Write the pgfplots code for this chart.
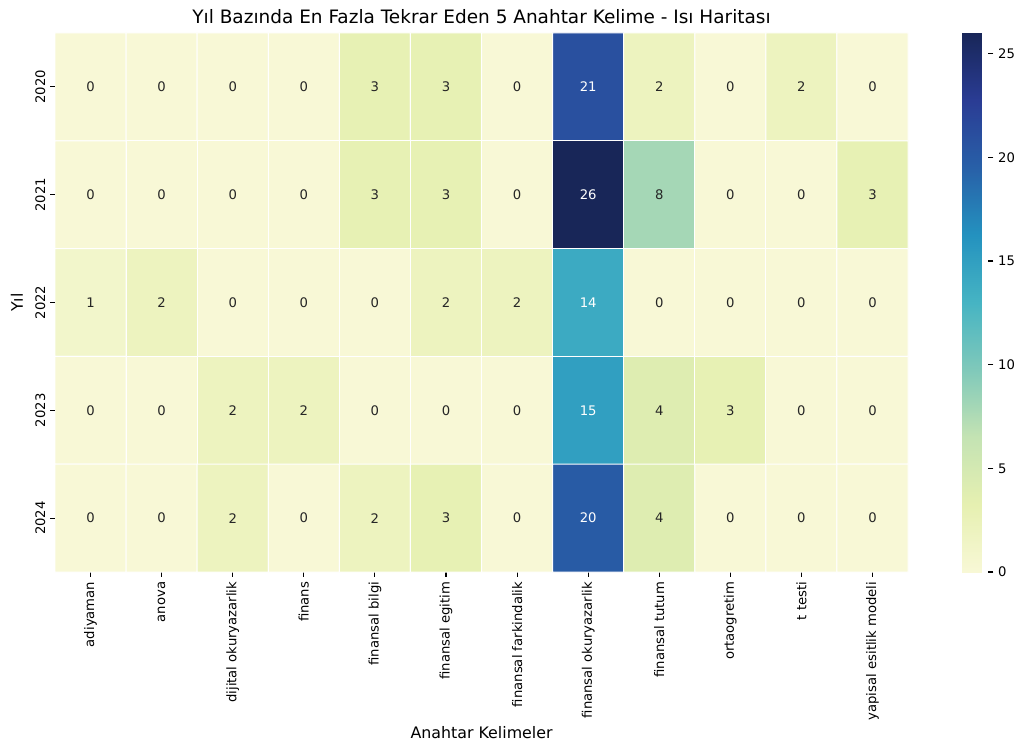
\documentclass[border=0pt]{standalone}
\usepackage{fontspec}
\setmainfont{DejaVu Sans}
\usepackage{pgfplots}
\usepackage{pgfplotstable}
\pgfplotsset{compat=1.18}
\pgfplotsset{/pgf/number format/assume math mode=true}

\pgfplotstableread{
x y C
0 0 0
1 0 0
2 0 0
3 0 0
4 0 3
5 0 3
6 0 0
7 0 21
8 0 2
9 0 0
10 0 2
11 0 0
0 1 0
1 1 0
2 1 0
3 1 0
4 1 3
5 1 3
6 1 0
7 1 26
8 1 8
9 1 0
10 1 0
11 1 3
0 2 1
1 2 2
2 2 0
3 2 0
4 2 0
5 2 2
6 2 2
7 2 14
8 2 0
9 2 0
10 2 0
11 2 0
0 3 0
1 3 0
2 3 2
3 3 2
4 3 0
5 3 0
6 3 0
7 3 15
8 3 4
9 3 3
10 3 0
11 3 0
0 4 0
1 4 0
2 4 2
3 4 0
4 4 2
5 4 3
6 4 0
7 4 20
8 4 4
9 4 0
10 4 0
11 4 0
}\heatdata

\pgfplotstableread{
x y C
7 0 21
7 1 26
7 2 14
7 3 15
7 4 20
}\whitedata

\definecolor{annot}{HTML}{262626}
\newcommand{\tk}{\fontsize{9.5}{11.5}\selectfont}

\begin{document}
\begin{tikzpicture}
\path[use as bounding box] (0,0) rectangle (732.24pt,534.96pt);
\begin{axis}[
  at={(39.6pt,123.1pt)}, anchor=south west,
  scale only axis, width=614.2pt, height=388.1pt,
  xmin=-0.5, xmax=11.5, ymin=-0.5, ymax=4.5, y dir=reverse,
  colormap={ylgnbu}{rgb255=(248,248,214) rgb255=(230,240,177) rgb255=(196,227,179) rgb255=(128,201,186) rgb255=(70,180,195) rgb255=(36,146,191) rgb255=(40,96,168) rgb255=(42,60,148) rgb255=(24,38,88)},
  point meta min=0, point meta max=26,
  xtick={0,...,11},
  xticklabels={adiyaman, anova, dijital okuryazarlik, finans, finansal bilgi, finansal egitim, finansal farkindalik, finansal okuryazarlik, finansal tutum, ortaogretim, t testi, yapisal esitlik modeli},
  ytick={0,...,4},
  yticklabels={2020,2021,2022,2023,2024},
  x tick label style={rotate=90, anchor=east, font=\tk},
  y tick label style={rotate=90, anchor=south, font=\tk},
  axis line style={draw=none},
  tick align=outside, major tick length=3.5pt,
  tick style={black, line width=0.8pt},
  xtick pos=bottom, ytick pos=left,
  title={Yıl Bazında En Fazla Tekrar Eden 5 Anahtar Kelime - Isı Haritası},
  title style={at={(axis description cs:0.5,1)}, anchor=base, yshift=1pt, font=\fontsize{13.3}{15}\selectfont},
  xlabel={Anahtar Kelimeler},
  xlabel style={at={(axis description cs:0.5,-0.2987)}, anchor=center, font=\fontsize{11.4}{13}\selectfont},
  ylabel={Yıl},
  ylabel style={at={(axis description cs:-0.0446,0.5)}, anchor=center, font=\fontsize{11.4}{13}\selectfont},
  colorbar,
  colorbar style={
    at={(parent axis.north east)}, anchor=north west, xshift=30.3pt,
    width=19pt,
    ytick={0,5,10,15,20,25},
    ytick pos=right, yticklabel pos=right,
    axis line style={draw=none},
    tick align=outside, major tick length=3.5pt,
    tick style={black, line width=0.8pt},
    yticklabel style={font=\tk},
    /pgf/number format/assume math mode=true,
  },
]
\addplot[matrix plot*, point meta=explicit, mesh/cols=12, draw=white, line width=0.7pt]
  table[x=x, y=y, meta=C] {\heatdata};
\addplot[only marks, mark=none, point meta=explicit symbolic,
  x filter/.expression={x==7 ? nan : x},
  nodes near coords, nodes near coords align=center,
  every node near coord/.append style={anchor=center, text=annot, font=\tk}]
  table[x=x, y=y, meta=C] {\heatdata};
\addplot[only marks, mark=none, point meta=explicit symbolic,
  nodes near coords, nodes near coords align=center,
  every node near coord/.append style={anchor=center, text=white, font=\tk}]
  table[x=x, y=y, meta=C] {\whitedata};
\end{axis}
\end{tikzpicture}
\end{document}
